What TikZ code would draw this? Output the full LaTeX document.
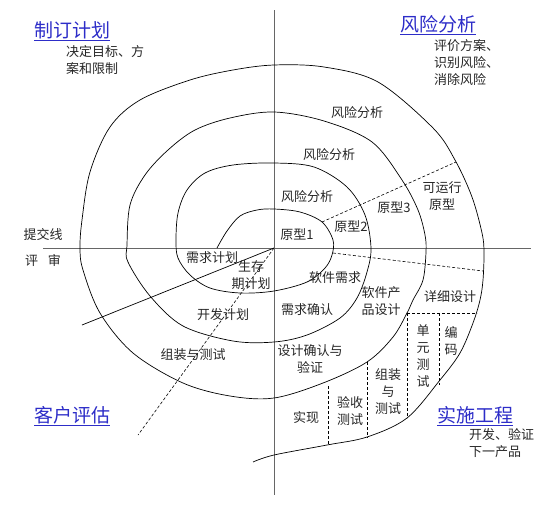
\documentclass[tikz,border=0pt]{standalone}
\usepackage{fontspec}
\setmainfont{Noto Sans CJK SC}
\usetikzlibrary{positioning}
\definecolor{phaseblue}{RGB}{45,45,200}

\begin{document}
\begin{tikzpicture}[x=1pt,y=-1pt,
  lbl/.style={font=\fontsize{13}{17}\selectfont,text=black!85,inner sep=0pt,align=center},
  note/.style={lbl,align=left},
  phase/.style={font=\fontsize{19}{21}\selectfont,text=phaseblue,inner sep=0pt},
  divider/.style={dash pattern=on 3pt off 2pt,line width=0.6pt},
  axis/.style={line width=1pt,black!60}]
\useasboundingbox (0,0) rectangle (548,506);

% axes
\coordinate (o) at (274,248);
\draw[axis] (274,10) -- (274,495);
\draw[axis] (43,248) -- (531,248);
\draw[line width=0.7pt] (o) -- (82,325);

% spiral
\draw[line width=0.7pt] plot[smooth,tension=0.55] coordinates {
  (217,248) (227,231) (240,216) (257,210) (274,209) (300,212) (322,222)
  (333,240) (332,255) (325,268) (307,282) (274,291) (240,293) (210,288)
  (190,275) (178,258) (176,240) (178,213) (187,190) (205,173) (233,165)
  (274,163) (314,167) (347,187) (365,215) (371,248) (367,272) (357,298)
  (340,318) (307,335) (274,342) (233,341) (183,326) (150,296) (128,262)
  (127,245) (130,205) (145,175) (168,150) (195,130) (230,118) (274,112)
  (324,121) (372,142) (402,180) (418,210) (425,235) (426,252) (423,280)
  (413,300) (407,313) (393,337) (367,362) (323,383) (274,398) (230,396)
  (183,383) (133,353) (100,313) (83,270) (80,248) (82,220) (90,172)
  (110,127) (140,100) (190,80) (233,70) (274,65) (324,67) (378,82)
  (433,128) (455,160) (472,197) (482,233) (484,252) (483,280) (480,300)
  (473,323) (460,353) (440,380) (407,418) (367,437) (327,445) (274,455)
  (253,462)};

% dividers
\draw[divider] (322,222) -- (456,162);
\draw[divider] (333,253) -- (483,271);
\draw[divider] (o) -- (138,435);
\draw[divider] (407,313) -- (477,313);
\draw[divider] (407,313) -- (407,418);
\draw[divider] (439,313) -- (439,385);
\draw[divider] (367,362) -- (367,438);
\draw[divider] (328,386) -- (328,445);

% quadrants
\node[phase] (plan) at (72,31) {\underline{制订计划}};
\node[note,anchor=north west] (planNote) at (66,45) {决定目标、方\\案和限制};
\node[phase] (risk) at (438,25) {\underline{风险分析}};
\node[note,anchor=north west] (riskNote) at (434,39) {评价方案、\\识别风险、\\消除风险};
\node[phase] (review) at (72,416) {\underline{客户评估}};
\node[phase] (build) at (475,416) {\underline{实施工程}};
\node[note,anchor=north west] (buildNote) at (469,428) {开发、验证\\下一产品};

% axis labels
\node[lbl] (submit) at (43,235) {提交线};
\node[lbl] (check) at (43,261) {评\hspace{10pt}审};

% risk side
\node[lbl] (risk3) at (357,113) {风险分析};
\node[lbl] (risk2) at (329,155) {风险分析};
\node[lbl] (risk1) at (307,197) {风险分析};
\node[lbl] (proto1) at (297,235) {原型1};
\node[lbl] (proto2) at (351,227) {原型2};
\node[lbl] (proto3) at (394,208) {原型3};
\node[lbl] (protoRun) at (442,196) {可运行\\原型};

% plan side
\node[lbl] (reqPlan) at (212,258) {需求计划};
\node[lbl] (lifePlan) at (251,275) {生存\\期计划};
\node[lbl] (devPlan) at (223,315) {开发计划};
\node[lbl] (testPlan) at (193,355) {组装与测试};

% engineering side
\node[lbl] (swReq) at (335,278) {软件需求};
\node[lbl] (reqOk) at (307,310) {需求确认};
\node[lbl] (swDesign) at (381,301) {软件产\\品设计};
\node[lbl] (detail) at (450,297) {详细设计};
\node[lbl] (unitTest) at (423,356) {单\\元\\测\\试};
\node[lbl] (coding) at (451,341) {编\\码};
\node[lbl] (designOk) at (310,359) {设计确认与\\验证};
\node[lbl] (impl) at (306,418) {实现};
\node[lbl] (accept) at (350,411) {验收\\测试};
\node[lbl] (intTest) at (388,392) {组装\\与\\测试};
\end{tikzpicture}
\end{document}
